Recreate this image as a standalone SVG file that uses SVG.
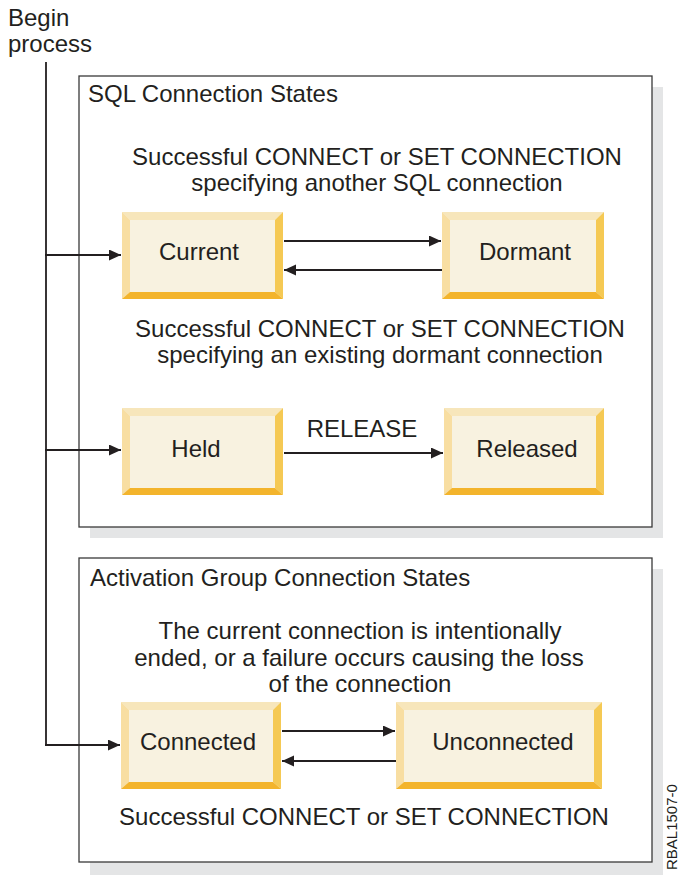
<svg xmlns="http://www.w3.org/2000/svg" width="679" height="875" viewBox="0 0 679 875">
<style>
text{font-family:"Liberation Sans",Arial,sans-serif;font-size:24px;fill:#231f20}
.m{text-anchor:middle}
.frame{fill:#fff;stroke:#3a3a3a;stroke-width:1.3}
.shadow{fill:#e4e5e6}
.face{fill:#f8f2e0}
.bt{fill:#f7e6bb}
.bl{fill:#f8dea2}
.br{fill:#f5c954}
.bb{fill:#f3b42c}
.ln{stroke:#231f20;stroke-width:1.8;fill:none}
</style>
<defs>
<marker id="ah" markerUnits="userSpaceOnUse" markerWidth="13" markerHeight="12" refX="12" refY="5.5" orient="auto">
<path d="M0,0 L12,5.5 L0,11 z" fill="#231f20"/>
</marker>
</defs>
<rect width="679" height="875" fill="#fff"/>

<g id="sql-group">
<rect class="shadow" x="90" y="87" width="573" height="451"/>
<rect class="frame" x="79" y="76" width="573" height="451"/>
<text x="88" y="102">SQL Connection States</text>
<text class="m" x="377" y="165">Successful CONNECT or SET CONNECTION</text>
<text class="m" x="377" y="191">specifying another SQL connection</text>
<text class="m" x="380" y="337">Successful CONNECT or SET CONNECTION</text>
<text class="m" x="380" y="363">specifying an existing dormant connection</text>
<text class="m" x="362" y="437">RELEASE</text>
</g>

<g id="activation-group">
<rect class="shadow" x="90" y="569" width="573" height="306"/>
<rect class="frame" x="79" y="558" width="573" height="304"/>
<text x="90" y="586">Activation Group Connection States</text>
<text class="m" x="360" y="639">The current connection is intentionally</text>
<text class="m" x="359" y="666">ended, or a failure occurs causing the loss</text>
<text class="m" x="360" y="692">of the connection</text>
<text class="m" x="364" y="825">Successful CONNECT or SET CONNECTION</text>
</g>

<g id="begin">
<text x="8" y="26">Begin</text>
<text x="8" y="52">process</text>
</g>

<g id="current">
<rect class="face" x="122" y="212" width="161" height="87"/>
<polygon class="bt" points="122,212 283,212 275,220 130,220"/>
<polygon class="bl" points="122,212 130,220 130,292 122,299"/>
<polygon class="br" points="283,212 283,299 275,292 275,220"/>
<polygon class="bb" points="122,299 130,292 275,292 283,299"/>
<text class="m" x="199" y="260">Current</text>
</g>

<g id="dormant">
<rect class="face" x="442" y="212" width="162" height="87"/>
<polygon class="bt" points="442,212 604,212 596,220 450,220"/>
<polygon class="bl" points="442,212 450,220 450,292 442,299"/>
<polygon class="br" points="604,212 604,299 596,292 596,220"/>
<polygon class="bb" points="442,299 450,292 596,292 604,299"/>
<text class="m" x="525" y="260">Dormant</text>
</g>

<g id="held">
<rect class="face" x="122" y="408" width="161" height="87"/>
<polygon class="bt" points="122,408 283,408 275,416 130,416"/>
<polygon class="bl" points="122,408 130,416 130,488 122,495"/>
<polygon class="br" points="283,408 283,495 275,488 275,416"/>
<polygon class="bb" points="122,495 130,488 275,488 283,495"/>
<text class="m" x="196" y="457">Held</text>
</g>

<g id="released">
<rect class="face" x="444" y="408" width="160" height="87"/>
<polygon class="bt" points="444,408 604,408 596,416 452,416"/>
<polygon class="bl" points="444,408 452,416 452,488 444,495"/>
<polygon class="br" points="604,408 604,495 596,488 596,416"/>
<polygon class="bb" points="444,495 452,488 596,488 604,495"/>
<text class="m" x="527" y="457">Released</text>
</g>

<g id="connected">
<rect class="face" x="121" y="702" width="160" height="87"/>
<polygon class="bt" points="121,702 281,702 273,710 129,710"/>
<polygon class="bl" points="121,702 129,710 129,782 121,789"/>
<polygon class="br" points="281,702 281,789 273,782 273,710"/>
<polygon class="bb" points="121,789 129,782 273,782 281,789"/>
<text class="m" x="198" y="750">Connected</text>
</g>

<g id="unconnected">
<rect class="face" x="396" y="702" width="206" height="87"/>
<polygon class="bt" points="396,702 602,702 594,710 404,710"/>
<polygon class="bl" points="396,702 404,710 404,782 396,789"/>
<polygon class="br" points="602,702 602,789 594,782 594,710"/>
<polygon class="bb" points="396,789 404,782 594,782 602,789"/>
<text class="m" x="503" y="750">Unconnected</text>
</g>

<g id="connectors">
<line class="ln" x1="46" y1="62" x2="46" y2="745"/>
<line class="ln" x1="45" y1="255" x2="121" y2="255" marker-end="url(#ah)"/>
<line class="ln" x1="45" y1="450" x2="121" y2="450" marker-end="url(#ah)"/>
<line class="ln" x1="45" y1="745" x2="120" y2="745" marker-end="url(#ah)"/>
<line class="ln" x1="284" y1="241" x2="441" y2="241" marker-end="url(#ah)"/>
<line class="ln" x1="442" y1="270" x2="284" y2="270" marker-end="url(#ah)"/>
<line class="ln" x1="284" y1="453" x2="443" y2="453" marker-end="url(#ah)"/>
<line class="ln" x1="282" y1="731" x2="395" y2="731" marker-end="url(#ah)"/>
<line class="ln" x1="396" y1="761" x2="282" y2="761" marker-end="url(#ah)"/>
</g>

<text transform="translate(677,870) rotate(-90)" style="font-size:15px">RBAL1507-0</text>
</svg>
